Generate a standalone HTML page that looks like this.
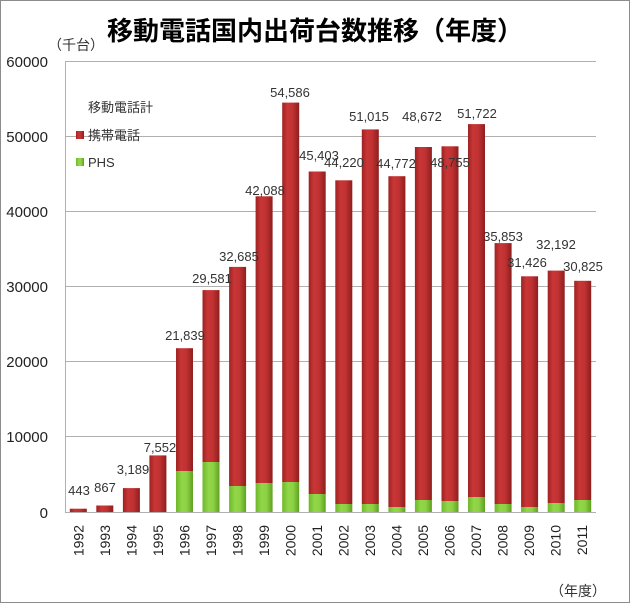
<!DOCTYPE html>
<html><head><meta charset="utf-8"><style>
html,body{margin:0;padding:0;background:#fff}
svg{display:block}
text{font-family:"Liberation Sans","Noto Sans CJK JP",sans-serif}
</style></head><body>
<svg width="630" height="603" viewBox="0 0 630 603" xmlns="http://www.w3.org/2000/svg">
<defs>
<linearGradient id="r" x1="0" x2="1" y1="0" y2="0">
<stop offset="0" stop-color="#9e2222"/><stop offset="0.3" stop-color="#c83636"/><stop offset="0.6" stop-color="#c23232"/><stop offset="1" stop-color="#8e1e1e"/>
</linearGradient>
<linearGradient id="g" x1="0" x2="1" y1="0" y2="0">
<stop offset="0" stop-color="#6fb82a"/><stop offset="0.35" stop-color="#92d64a"/><stop offset="0.65" stop-color="#8cd044"/><stop offset="1" stop-color="#5ea020"/>
</linearGradient>
</defs>
<rect x="0.5" y="0.5" width="629" height="602" fill="#fff" stroke="#8c8c8c"/>
<text x="315" y="40" font-size="26" font-weight="bold" text-anchor="middle" fill="#000">移動電話国内出荷台数推移（年度）</text>
<text x="48" y="50" font-size="14" fill="#333">（千台）</text>
<g stroke="#b0b0b0" stroke-width="1">
<line x1="65" y1="61.5" x2="596" y2="61.5"/>
<line x1="65" y1="136.5" x2="596" y2="136.5"/>
<line x1="65" y1="211.5" x2="596" y2="211.5"/>
<line x1="65" y1="286.5" x2="596" y2="286.5"/>
<line x1="65" y1="361.5" x2="596" y2="361.5"/>
<line x1="65" y1="436.5" x2="596" y2="436.5"/>
<line x1="65" y1="512.5" x2="596" y2="512.5"/>
<line x1="65.5" y1="61" x2="65.5" y2="512"/>
</g>
<g font-size="15" fill="#222" text-anchor="end">
<text x="48" y="67">60000</text><text x="48" y="142">50000</text><text x="48" y="217">40000</text>
<text x="48" y="292">30000</text><text x="48" y="367">20000</text><text x="48" y="442">10000</text><text x="48" y="518">0</text>
</g>
<g font-size="13" fill="#333">
<text x="88" y="112">移動電話計</text>
<rect x="76" y="131" width="8" height="8" fill="url(#r)"/><text x="88" y="140">携帯電話</text>
<rect x="76" y="158" width="8" height="8" fill="url(#g)"/><text x="88" y="167">PHS</text>
</g>
<g>
<rect x="69.8" y="508.7" width="17" height="3.3" fill="url(#r)"/>
<rect x="96.3" y="505.5" width="17" height="6.5" fill="url(#r)"/>
<rect x="122.9" y="488.1" width="17" height="23.9" fill="url(#r)"/>
<rect x="149.4" y="455.4" width="17" height="56.6" fill="url(#r)"/>
<rect x="176.0" y="348.2" width="17" height="122.8" fill="url(#r)"/><rect x="176.0" y="471" width="17" height="41" fill="url(#g)"/>
<rect x="202.5" y="290.1" width="17" height="171.9" fill="url(#r)"/><rect x="202.5" y="462" width="17" height="50" fill="url(#g)"/>
<rect x="229.1" y="266.9" width="17" height="219.1" fill="url(#r)"/><rect x="229.1" y="486" width="17" height="26" fill="url(#g)"/>
<rect x="255.6" y="196.3" width="17" height="286.7" fill="url(#r)"/><rect x="255.6" y="483" width="17" height="29" fill="url(#g)"/>
<rect x="282.2" y="102.6" width="17" height="379.4" fill="url(#r)"/><rect x="282.2" y="482" width="17" height="30" fill="url(#g)"/>
<rect x="308.7" y="171.5" width="17" height="322.5" fill="url(#r)"/><rect x="308.7" y="494" width="17" height="18" fill="url(#g)"/>
<rect x="335.3" y="180.3" width="17" height="323.7" fill="url(#r)"/><rect x="335.3" y="504" width="17" height="8" fill="url(#g)"/>
<rect x="361.8" y="129.4" width="17" height="374.6" fill="url(#r)"/><rect x="361.8" y="504" width="17" height="8" fill="url(#g)"/>
<rect x="388.4" y="176.2" width="17" height="330.8" fill="url(#r)"/><rect x="388.4" y="507" width="17" height="5" fill="url(#g)"/>
<rect x="414.9" y="147.0" width="17" height="353" fill="url(#r)"/><rect x="414.9" y="500" width="17" height="12" fill="url(#g)"/>
<rect x="441.5" y="146.3" width="17" height="354.7" fill="url(#r)"/><rect x="441.5" y="501" width="17" height="11" fill="url(#g)"/>
<rect x="468.0" y="124.1" width="17" height="372.9" fill="url(#r)"/><rect x="468.0" y="497" width="17" height="15" fill="url(#g)"/>
<rect x="494.6" y="243.1" width="17" height="260.9" fill="url(#r)"/><rect x="494.6" y="504" width="17" height="8" fill="url(#g)"/>
<rect x="521.1" y="276.3" width="17" height="230.7" fill="url(#r)"/><rect x="521.1" y="507" width="17" height="5" fill="url(#g)"/>
<rect x="547.7" y="270.6" width="17" height="232.4" fill="url(#r)"/><rect x="547.7" y="503" width="17" height="9" fill="url(#g)"/>
<rect x="574.2" y="280.8" width="17" height="219.2" fill="url(#r)"/><rect x="574.2" y="500" width="17" height="12" fill="url(#g)"/>
</g>
<g font-size="13" fill="#333" text-anchor="middle">
<text x="79" y="495">443</text><text x="105" y="492">867</text><text x="133" y="474">3,189</text>
<text x="160" y="452">7,552</text><text x="185" y="340">21,839</text><text x="212" y="283">29,581</text>
<text x="239" y="261">32,685</text><text x="265" y="195">42,088</text><text x="290" y="97">54,586</text>
<text x="319" y="160">45,403</text><text x="344" y="167">44,220</text><text x="369" y="121">51,015</text>
<text x="396" y="168">44,772</text><text x="422" y="121">48,672</text><text x="450" y="167">48,755</text>
<text x="477" y="118">51,722</text><text x="503" y="241">35,853</text><text x="527" y="267">31,426</text>
<text x="556" y="249">32,192</text><text x="583" y="271">30,825</text>
</g>
<g font-size="14" fill="#222" text-anchor="end">
<text transform="translate(83.5,525) rotate(-90)">1992</text>
<text transform="translate(110,525) rotate(-90)">1993</text>
<text transform="translate(136.5,525) rotate(-90)">1994</text>
<text transform="translate(163,525) rotate(-90)">1995</text>
<text transform="translate(189.5,525) rotate(-90)">1996</text>
<text transform="translate(216,525) rotate(-90)">1997</text>
<text transform="translate(242.5,525) rotate(-90)">1998</text>
<text transform="translate(269,525) rotate(-90)">1999</text>
<text transform="translate(295.5,525) rotate(-90)">2000</text>
<text transform="translate(322,525) rotate(-90)">2001</text>
<text transform="translate(348.5,525) rotate(-90)">2002</text>
<text transform="translate(375,525) rotate(-90)">2003</text>
<text transform="translate(401.5,525) rotate(-90)">2004</text>
<text transform="translate(428,525) rotate(-90)">2005</text>
<text transform="translate(454.5,525) rotate(-90)">2006</text>
<text transform="translate(481,525) rotate(-90)">2007</text>
<text transform="translate(507.5,525) rotate(-90)">2008</text>
<text transform="translate(534,525) rotate(-90)">2009</text>
<text transform="translate(560.5,525) rotate(-90)">2010</text>
<text transform="translate(587,525) rotate(-90)">2011</text>
</g>
<text x="550" y="596" font-size="14" fill="#333">（年度）</text>
</svg>
</body></html>
